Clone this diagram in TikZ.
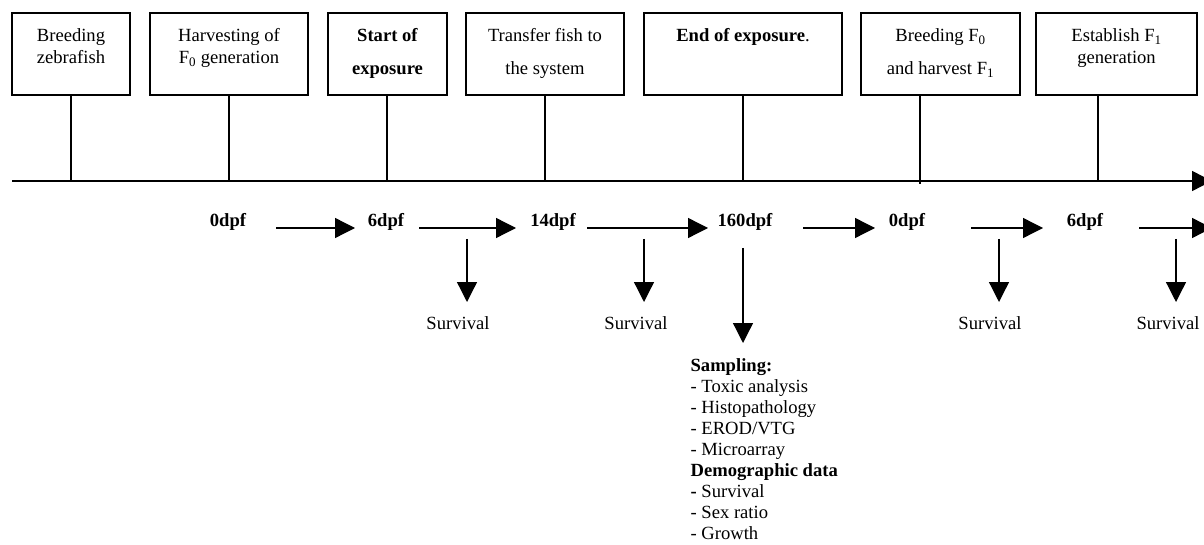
\documentclass[tikz,border=0pt]{standalone}
\usepackage{fontspec}
\setmainfont{Liberation Serif}
\usetikzlibrary{arrows.meta}
\newcommand\fsone{\fontsize{18.6pt}{22pt}\selectfont}
\newcommand\fsonehalf{\fontsize{18.6pt}{33pt}\selectfont}
\newcommand\fslist{\fontsize{18.6pt}{21pt}\selectfont}
\begin{document}
\begin{tikzpicture}[x=1pt,y=-1pt,
  line width=1.2pt,
  box/.style={draw, line width=1.2pt, inner sep=0pt, minimum height=82pt},
  boxtext/.style={anchor=north, inner sep=0pt, align=center, font=\fsone},
  boxtextwide/.style={anchor=north, inner sep=0pt, align=center, font=\fsonehalf},
  tick/.style={line width=1.2pt},
  daylabel/.style={inner sep=0pt, font=\fsone\bfseries},
  survlabel/.style={inner sep=0pt, font=\fsone},
  harrow/.style={line width=1.3pt, -{Triangle[length=20pt,width=20pt]}},
  varrow/.style={line width=1.3pt, -{Triangle[length=20pt,width=20pt]}}
]
\useasboundingbox (0,0) rectangle (1204,545);
\clip (0,0) rectangle (1204,545);

% boxes
\node[box, minimum width=118pt] (b1) at (71,54) {};
\node[box, minimum width=158pt] (b2) at (229,54) {};
\node[box, minimum width=119pt] (b3) at (387.5,54) {};
\node[box, minimum width=158pt] (b4) at (545,54) {};
\node[box, minimum width=198pt] (b5) at (743,54) {};
\node[box, minimum width=159pt] (b6) at (940.5,54) {};
\node[box, minimum width=161pt] (b7) at (1116.5,54) {};

\node[boxtext] (t1) at (71,28) {Breeding\\zebrafish};
\node[boxtext] (t2) at (229,28) {Harvesting of\\F\textsubscript{0} generation};
\node[boxtextwide] (t3) at (387.5,28) {\textbf{Start of}\\\textbf{exposure}};
\node[boxtextwide] (t4) at (545,28) {Transfer fish to\\the system};
\node[boxtext] (t5) at (743,28) {\textbf{End of exposure}.};
\node[boxtextwide] (t6) at (940.5,28) {Breeding F\textsubscript{0}\\and harvest F\textsubscript{1}};
\node[boxtext] (t7) at (1116.5,28) {Establish F\textsubscript{1}\\generation};

% time axis
\coordinate (axs) at (12,181);
\coordinate (axe) at (1212,181);
\draw[harrow] (axs) -- (axe);

% ticks
\coordinate (k1) at (71,180);
\coordinate (k2) at (229,180);
\coordinate (k3) at (387,180);
\coordinate (k4) at (545,180);
\coordinate (k5) at (743,180);
\coordinate (k6) at (920,184);
\coordinate (k7) at (1098,180);
\draw[tick] (k1 |- b1.south) -- (k1);
\draw[tick] (k2 |- b2.south) -- (k2);
\draw[tick] (k3 |- b3.south) -- (k3);
\draw[tick] (k4 |- b4.south) -- (k4);
\draw[tick] (k5 |- b5.south) -- (k5);
\draw[tick] (k6 |- b6.south) -- (k6);
\draw[tick] (k7 |- b7.south) -- (k7);

% day labels
\node[daylabel] (d1) at (228,222) {0dpf};
\node[daylabel] (d2) at (386,222) {6dpf};
\node[daylabel] (d3) at (553,222) {14dpf};
\node[daylabel] (d4) at (745,222) {160dpf};
\node[daylabel] (d5) at (907,222) {0dpf};
\node[daylabel] (d6) at (1085,222) {6dpf};

% horizontal arrows
\coordinate (h1s) at (276,228); \coordinate (h1e) at (355,228);
\coordinate (h2s) at (419,228); \coordinate (h2e) at (516,228);
\coordinate (h3s) at (587,228); \coordinate (h3e) at (708,228);
\coordinate (h4s) at (803,228); \coordinate (h4e) at (875,228);
\coordinate (h5s) at (971,228); \coordinate (h5e) at (1043,228);
\coordinate (h6s) at (1139,228); \coordinate (h6e) at (1212,228);
\draw[harrow] (h1s) -- (h1e);
\draw[harrow] (h2s) -- (h2e);
\draw[harrow] (h3s) -- (h3e);
\draw[harrow] (h4s) -- (h4e);
\draw[harrow] (h5s) -- (h5e);
\draw[harrow] (h6s) -- (h6e);

% survival labels and down arrows
\node[survlabel] (s1) at (458,323) {Survival};
\node[survlabel] (s2) at (636,323) {Survival};
\node[survlabel] (s3) at (990,323) {Survival};
\node[survlabel] (s4) at (1168,323) {Survival};
\coordinate (v1s) at (467,239); \coordinate (v1e) at (467,302);
\coordinate (v2s) at (644,239); \coordinate (v2e) at (644,302);
\coordinate (v3s) at (999,239); \coordinate (v3e) at (999,302);
\coordinate (v4s) at (1176,239); \coordinate (v4e) at (1176,302);
\draw[varrow] (v1s) -- (v1e);
\draw[varrow] (v2s) -- (v2e);
\draw[varrow] (v3s) -- (v3e);
\draw[varrow] (v4s) -- (v4e);

% sampling
\coordinate (v5s) at (743,248); \coordinate (v5e) at (743,343);
\draw[varrow] (v5s) -- (v5e);
\node[anchor=north west, inner sep=0pt, align=left, font=\fslist] (samp) at (690,358)
 {\textbf{Sampling:}\\
  - Toxic analysis\\
  - Histopathology\\
  - EROD/VTG\\
  - Microarray\\
  \textbf{Demographic data}\\
  \textbf{-} Survival\\
  - Sex ratio\\
  - Growth};
\end{tikzpicture}
\end{document}
